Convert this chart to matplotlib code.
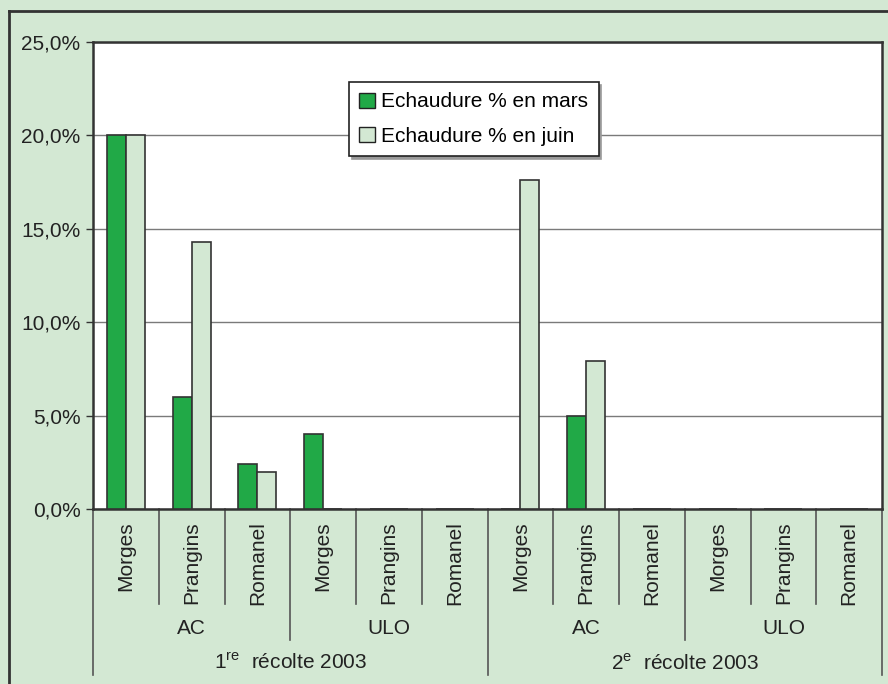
import matplotlib
matplotlib.use("Agg")
import matplotlib.pyplot as plt
import matplotlib.transforms as mtransforms
from matplotlib.patches import Patch

plt.rcParams["font.family"] = ["Liberation Sans", "DejaVu Sans"]

sites = ["Morges", "Prangins", "Romanel"] * 4
storage = ["AC", "ULO", "AC", "ULO"]
harvests = [r"1$^{\mathregular{re}}$  récolte 2003", r"2$^{\mathregular{e}}$  récolte 2003"]
mars = [20.0, 6.0, 2.4, 4.0, 0, 0, 0, 5.0, 0, 0, 0, 0]
juin = [20.0, 14.3, 2.0, 0, 0, 0, 17.6, 7.9, 0, 0, 0, 0]
labels = ["Echaudure % en mars", "Echaudure % en juin"]
yticks = [0, 5, 10, 15, 20, 25]

W, H = 888, 684
bg = "#d3e8d3"
dark_green = "#21a947"
fs = 15

fig = plt.figure(figsize=(W / 100, H / 100), dpi=100, facecolor=bg)
# outer frame (top and left visible)
fig.add_artist(plt.Line2D([9 / W, 9 / W], [0, 1 - 11 / H], transform=fig.transFigure, color="#333333", lw=2))
fig.add_artist(plt.Line2D([9 / W, 1], [1 - 11 / H, 1 - 11 / H], transform=fig.transFigure, color="#333333", lw=2))

ax = fig.add_axes([93 / W, 1 - 509 / H, (882 - 93) / W, (509 - 42) / H])
ax.set_facecolor("white")

x = list(range(len(sites)))
w = 0.29
ax.bar([i - w / 2 for i in x], mars, width=w, color=dark_green, edgecolor="#333333", lw=1.2, zorder=3)
ax.bar([i + w / 2 for i in x], juin, width=w, color=bg, edgecolor="#333333", lw=1.2, zorder=3)

ax.set_xlim(-0.5, len(sites) - 0.5)
ax.set_ylim(0, 25)
ax.set_yticks(yticks)
ax.set_yticklabels([f"{v:.1f}%".replace(".", ",") for v in yticks], fontsize=fs, color="#222222")
ax.tick_params(axis="y", length=5, width=1, color="#333333", pad=4)
ax.set_xticks([])
ax.grid(axis="y", color="#7a7a7a", lw=1, zorder=0)
for s in ax.spines.values():
    s.set_color("#333333")
    s.set_linewidth(1.8)

# category axis: separators and labels below the plot
trans = mtransforms.blended_transform_factory(ax.transData, fig.transFigure)
y0 = 1 - 509 / H
for k in range(len(sites) + 1):
    b = k - 0.5
    if k % 6 == 0:
        yend = 1 - 675 / H
    elif k % 3 == 0:
        yend = 1 - 640 / H
    else:
        yend = 1 - 604 / H
    ax.plot([b, b], [y0, yend], transform=trans, color="#555555", lw=1.2, clip_on=False)

for i, s in enumerate(sites):
    ax.text(i, 1 - 521 / H, s, transform=trans, rotation=90, ha="center", va="top", fontsize=fs, color="#222222")
for j, g in enumerate(storage):
    ax.text(3 * j + 1, 1 - 628 / H, g, transform=trans, ha="center", va="center", fontsize=fs, color="#222222")
for j, h in enumerate(harvests):
    ax.text(6 * j + 2.5, 1 - 663 / H, h, transform=trans, ha="center", va="center", fontsize=fs, color="#222222")

handles = [Patch(facecolor=dark_green, edgecolor="#222222"), Patch(facecolor=bg, edgecolor="#222222")]
leg = ax.legend(handles, labels, loc="upper left", bbox_to_anchor=(349 / W, 1 - 82 / H),
                bbox_transform=fig.transFigure, fontsize=fs, frameon=True, fancybox=False,
                shadow={"color": "#999999", "alpha": 1}, handlelength=0.75, handleheight=0.75,
                handletextpad=0.3, borderpad=0.5, labelspacing=0.75, borderaxespad=0)
leg.get_frame().set_edgecolor("#222222")
leg.get_frame().set_linewidth(1.2)

fig.savefig("out.png", dpi=100, facecolor=bg)
